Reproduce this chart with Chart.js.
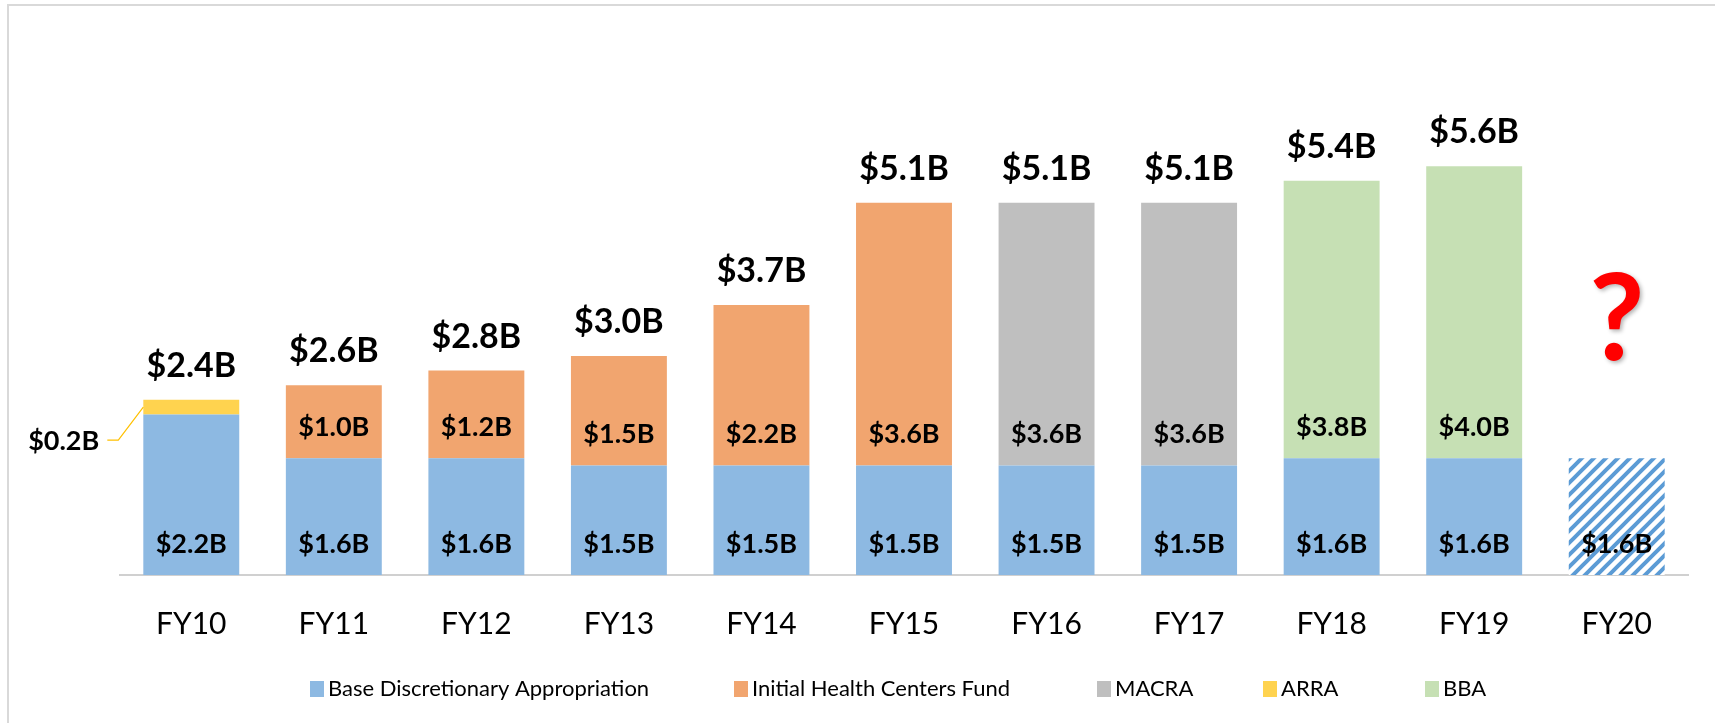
<!DOCTYPE html>
<html>
<head>
<meta charset="utf-8">
<script src="https://cdn.jsdelivr.net/npm/chart.js@4.4.1/dist/chart.umd.min.js"></script>
<style>
  html, body { margin: 0; padding: 0; background: #ffffff; }
  canvas { display: block; }
</style>
</head>
<body>
<canvas id="c" width="1715" height="723"></canvas>
<script>
// ---- data ----
const categories = ['FY10', 'FY11', 'FY12', 'FY13', 'FY14', 'FY15', 'FY16', 'FY17', 'FY18', 'FY19', 'FY20'];
const baseValues  = [2.2, 1.6, 1.6, 1.5, 1.5, 1.5, 1.5, 1.5, 1.6, 1.6, 1.6];
const arraValues  = [0.2, null, null, null, null, null, null, null, null, null, null];
const ihcfValues  = [null, 1.0, 1.2, 1.5, 2.2, 3.6, null, null, null, null, null];
const macraValues = [null, null, null, null, null, null, 3.6, 3.6, null, null, null];
const bbaValues   = [null, null, null, null, null, null, null, null, 3.8, 4.0, null];
const projectedCategories = ['FY20'];
const legendOrder = ['Base Discretionary Appropriation', 'Initial Health Centers Fund', 'MACRA', 'ARRA', 'BBA'];

// ---- styles ----
const FONT = 'Lato, "Open Sans", sans-serif';
const COLORS = {
  base: '#8DB9E2', ihcf: '#F1A56F', macra: '#BFBFBF', arra: '#FFD34F', bba: '#C6E0B4', hatch: '#5B9BD5'
};

function makeHatch() {
  const p = document.createElement('canvas');
  p.width = 12; p.height = 12;
  const g = p.getContext('2d');
  g.fillStyle = '#ffffff';
  g.fillRect(0, 0, 12, 12);
  g.strokeStyle = COLORS.hatch;
  g.lineWidth = 4;
  g.beginPath();
  g.moveTo(-6, 6); g.lineTo(6, -6);
  g.moveTo(0, 12); g.lineTo(12, 0);
  g.moveTo(6, 18); g.lineTo(18, 6);
  g.stroke();
  return document.getElementById('c').getContext('2d').createPattern(p, 'repeat');
}
const hatch = makeHatch();
const baseColors = categories.map(c => projectedCategories.includes(c) ? hatch : COLORS.base);

const fmt = v => '$' + v.toFixed(1) + 'B';

const frameAndLabels = {
  id: 'frameAndLabels',
  beforeDraw(chart) {
    const ctx = chart.ctx;
    ctx.save();
    ctx.strokeStyle = '#D9D9D9';
    ctx.lineWidth = 2;
    ctx.beginPath();
    ctx.moveTo(8, chart.height);
    ctx.lineTo(8, 5);
    ctx.lineTo(chart.width, 5);
    ctx.stroke();
    ctx.restore();
  },
  afterDatasetsDraw(chart) {
    const ctx = chart.ctx;
    const yScale = chart.scales.y;
    ctx.save();
    ctx.fillStyle = '#000000';
    ctx.textAlign = 'center';
    ctx.textBaseline = 'middle';
    // segment labels
    chart.data.datasets.forEach((ds, i) => {
      const meta = chart.getDatasetMeta(i);
      meta.data.forEach((el, j) => {
        const v = ds.data[j];
        if (v === null || v === undefined) return;
        if (ds.callout) {
          const left = el.x - el.width / 2;
          const midY = (el.y + el.base) / 2;
          ctx.save();
          ctx.strokeStyle = '#FFC000';
          ctx.lineWidth = 1.2;
          ctx.beginPath();
          ctx.moveTo(left, midY);
          ctx.lineTo(left - 25, midY + 33);
          ctx.lineTo(left - 36, midY + 33);
          ctx.stroke();
          ctx.font = 'bold 27px ' + FONT;
          ctx.textAlign = 'right';
          ctx.fillText(fmt(v), left - 44, midY + 34);
          ctx.restore();
        } else {
          ctx.font = 'bold 27px ' + FONT;
          ctx.fillText(fmt(v), el.x, el.base - 31);
        }
      });
    });
    // totals
    const xMeta = chart.getDatasetMeta(0);
    categories.forEach((cat, j) => {
      const x = xMeta.data[j].x;
      if (projectedCategories.includes(cat)) {
        const top = xMeta.data[j].y;
        ctx.save();
        ctx.font = 'bold 120px ' + FONT;
        ctx.textBaseline = 'alphabetic';
        ctx.fillStyle = '#FF0000';
        ctx.shadowColor = 'rgba(0,0,0,0.3)';
        ctx.shadowBlur = 4;
        ctx.shadowOffsetX = 2;
        ctx.shadowOffsetY = 2;
        ctx.fillText('?', x, top - 98);
        ctx.restore();
        return;
      }
      let total = 0;
      chart.data.datasets.forEach(ds => { total += ds.data[j] || 0; });
      const yTop = yScale.getPixelForValue(total);
      ctx.font = 'bold 34px ' + FONT;
      ctx.fillText(fmt(total), x, yTop - 34);
    });
    ctx.restore();
  },
  afterDraw(chart) {
    // legend
    const ctx = chart.ctx;
    const boxX = [310, 734, 1097, 1263, 1425];
    const y = 689;
    ctx.save();
    ctx.font = '22px ' + FONT;
    ctx.textBaseline = 'middle';
    ctx.textAlign = 'left';
    legendOrder.forEach((name, k) => {
      const ds = chart.data.datasets.find(d => d.label === name);
      ctx.fillStyle = ds.legendColor;
      ctx.fillRect(boxX[k], y - 8, 14, 16);
      ctx.fillStyle = '#000000';
      ctx.fillText(name, boxX[k] + 18, y);
    });
    ctx.restore();
  }
};

new Chart(document.getElementById('c'), {
  type: 'bar',
  data: {
    labels: categories,
    datasets: [
      { label: 'Base Discretionary Appropriation', data: baseValues, backgroundColor: baseColors, legendColor: COLORS.base },
      { label: 'ARRA', data: arraValues, backgroundColor: COLORS.arra, legendColor: COLORS.arra, callout: true },
      { label: 'Initial Health Centers Fund', data: ihcfValues, backgroundColor: COLORS.ihcf, legendColor: COLORS.ihcf },
      { label: 'MACRA', data: macraValues, backgroundColor: COLORS.macra, legendColor: COLORS.macra },
      { label: 'BBA', data: bbaValues, backgroundColor: COLORS.bba, legendColor: COLORS.bba }
    ]
  },
  options: {
    responsive: false,
    animation: false,
    layout: { padding: { left: 120, right: 27, top: 64, bottom: 50 } },
    datasets: { bar: { categoryPercentage: 1, barPercentage: 0.673, borderWidth: 0 } },
    plugins: { legend: { display: false }, tooltip: { enabled: false } },
    scales: {
      x: {
        stacked: true,
        grid: { display: false, drawTicks: false },
        border: { display: true, color: '#D0D0D0', width: 2 },
        ticks: { color: '#000000', font: { family: FONT, size: 30 }, padding: 31, maxRotation: 0 }
      },
      y: {
        stacked: true,
        display: false,
        min: 0,
        max: 7
      }
    }
  },
  plugins: [frameAndLabels]
});
</script>
</body>
</html>
